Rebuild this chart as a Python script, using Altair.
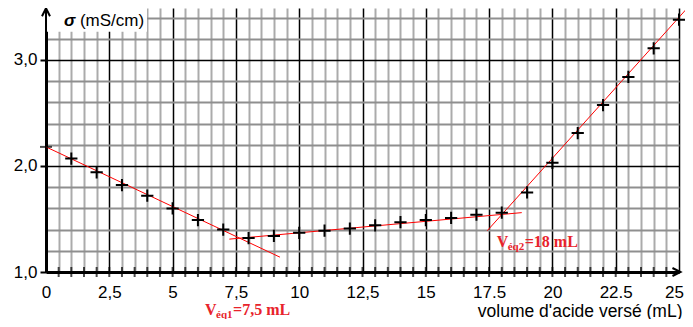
import json
import altair as alt
import pandas as pd

# ---- data ----
volume = list(range(1, 26))
sigma = [2.07, 1.94, 1.82, 1.72, 1.60, 1.49, 1.40, 1.32, 1.34, 1.37,
         1.39, 1.41, 1.44, 1.47, 1.49, 1.51, 1.54, 1.56, 1.75, 2.03,
         2.31, 2.575, 2.84, 3.11, 3.38]

# fitted red lines (segment id, endpoints)
fit_seg = [1, 1, 2, 2, 3, 3]
fit_x = [0.0, 9.24, 7.24, 18.79, 17.43, 25.33]
fit_y = [2.18, 1.14, 1.31, 1.56, 1.39, 3.49]

x_grid_vals = [i * 0.5 for i in range(51)]
y_grid_vals = [round(1 + 0.2 * i, 1) for i in range(13)]
x_labels = ["0", "2,5", "5", "7,5", "10", "12,5", "15", "17.5", "20", "22.5", "25"]
y_labels = ["1,0", "2,0", "3,0"]
x_minor_ticks = [i * 0.5 for i in range(1, 50)]

x_title = "volume d'acide versé (mL)"
y_title_sym = "σ"
y_title_unit = "(mS/cm)"

ann_x = [6.28, 17.8]
ann_y = [0.594, 1.236]
ann_sub = ["éq1", "éq2"]
ann_rest = ["=7,5 mL", "=18 mL"]

# ---- tables ----
pts = pd.DataFrame({"x": volume, "y": sigma})
fits = pd.DataFrame({"seg": fit_seg, "x": fit_x, "y": fit_y})
ticks = pd.DataFrame({"x": x_minor_ticks, "y": [1.0] * len(x_minor_ticks)})
ann = pd.DataFrame({"x": ann_x, "y": ann_y, "sub": ann_sub, "rest": ann_rest})

XMIN, XMAX, YMIN, YMAX = 0, 25, 1.0, 3.49

x_axis = alt.Axis(
    values=x_grid_vals,
    grid=True,
    gridColor={"condition": {"test": "datum.value % 2.5 === 0", "value": "#000000"}, "value": "#ababab"},
    gridWidth={"condition": {"test": "datum.value % 2.5 === 0", "value": 1.5}, "value": 2},
    ticks=False,
    domainColor="#000000",
    domainWidth=3,
    labelExpr="datum.value % 2.5 === 0 ? " + json.dumps(x_labels) + "[round(datum.value / 2.5)] : ''",
    labelFont="Liberation Sans",
    labelFontSize=17,
    labelColor="#000000",
    labelPadding=12,
    labelFlush=False,
    labelOverlap=False,
    labelOffset={"condition": {"test": "datum.value === 25", "value": -5}, "value": 0},
    title=x_title,
    titleFont="Liberation Sans",
    titleFontSize=17.5,
    titleFontWeight="normal",
    titleColor="#000000",
    titleAlign="right",
    titleAnchor="end",
    titleBaseline="alphabetic",
    titleX=636,
    titleY=44,
)

y_axis = alt.Axis(
    values=y_grid_vals,
    grid=True,
    gridColor={"condition": {"test": "abs(datum.value - round(datum.value)) < 0.001", "value": "#000000"}, "value": "#8f8f8f"},
    gridWidth={"condition": {"test": "abs(datum.value - round(datum.value)) < 0.001", "value": 1.5}, "value": 2},
    ticks=True,
    tickColor={"condition": {"test": "abs(datum.value - round(datum.value)) < 0.001", "value": "#000000"}, "value": "rgba(0,0,0,0)"},
    tickSize=6,
    tickWidth=2,
    domainColor="#000000",
    domainWidth=3,
    labelExpr="abs(datum.value - round(datum.value)) < 0.001 ? " + json.dumps(y_labels) + "[round(datum.value) - 1] : ''",
    labelFont="Liberation Sans",
    labelFontSize=17,
    labelColor="#000000",
    labelPadding=3,
    labelOverlap=False,
    title=None,
)

X = alt.X("x:Q", scale=alt.Scale(domain=[XMIN, XMAX], nice=False, zero=False), axis=x_axis)
Y = alt.Y("y:Q", scale=alt.Scale(domain=[YMIN, YMAX], nice=False, zero=False), axis=y_axis)

# white box behind the y title
box = alt.Chart(pd.DataFrame({"x": [0.04], "x2": [3.99], "y": [3.265], "y2": [3.49]})).mark_rect(
    color="white"
).encode(x=X, x2="x2:Q", y=Y, y2="y2:Q")

lines = alt.Chart(fits).mark_line(color="#ff0000", strokeWidth=1).encode(x=X, y=Y, detail="seg:N")

cross = "M-1,0L1,0M0,-1L0,1"
points = alt.Chart(pts).mark_point(
    shape=cross, filled=False, stroke="#000000", strokeWidth=2, size=150, opacity=1
).encode(x=X, y=Y)

xticks = alt.Chart(ticks).mark_tick(orient="vertical", size=10, thickness=2, color="#000000").encode(x=X, y=Y)

ytick = alt.Chart(pd.DataFrame({"x": [0.0], "y": [2.18]})).mark_tick(
    orient="horizontal", size=12, thickness=2, color="#000000"
).encode(x=X, y=Y)

arrow_up = alt.Chart(pd.DataFrame({"x": [0.0], "y": [3.45]})).mark_point(
    shape="M-1,1L0,-1L1,1", filled=False, stroke="#000000", strokeWidth=2, size=64, opacity=1
).encode(x=X, y=Y)

arrow_right = alt.Chart(pd.DataFrame({"x": [24.9], "y": [1.0]})).mark_point(
    shape="M-1,-1L1,0L-1,1", filled=False, stroke="#000000", strokeWidth=2, size=64, opacity=1
).encode(x=X, y=Y)

ylab = pd.DataFrame({"x": [0.71, 1.34], "y": [3.32, 3.32], "t": [y_title_sym, y_title_unit]})
ysym = alt.Chart(ylab.iloc[[0]]).mark_text(
    align="left", baseline="alphabetic", font="Liberation Sans", fontSize=17,
    fontWeight="bold", fontStyle="italic", color="#000000"
).encode(x=X, y=Y, text="t:N")
yunit = alt.Chart(ylab.iloc[[1]]).mark_text(
    align="left", baseline="alphabetic", font="Liberation Sans", fontSize=17, color="#000000"
).encode(x=X, y=Y, text="t:N")

RED = "#e8232b"
annV = alt.Chart(ann).mark_text(
    align="left", baseline="alphabetic", font="Liberation Serif", fontSize=16,
    fontWeight="bold", color=RED, text="V"
).encode(x=X, y=Y)
annS = alt.Chart(ann).mark_text(
    align="left", baseline="alphabetic", font="Liberation Serif", fontSize=11,
    fontWeight="bold", color=RED, dx=11, dy=3
).encode(x=X, y=Y, text="sub:N")
annR = alt.Chart(ann).mark_text(
    align="left", baseline="alphabetic", font="Liberation Serif", fontSize=16,
    fontWeight="bold", color=RED, dx=28
).encode(x=X, y=Y, text="rest:N")

chart = alt.layer(
    box, lines, points, xticks, ytick, arrow_up, arrow_right, ysym, yunit, annV, annS, annR
).properties(
    width=633,
    height=264,
    padding={"left": 38, "top": 0, "right": 6, "bottom": 47},
    autosize=alt.AutoSizeParams(type="none"),
).configure_view(strokeWidth=0)

chart.save("out.html", embed_options={"renderer": "svg", "actions": False})
